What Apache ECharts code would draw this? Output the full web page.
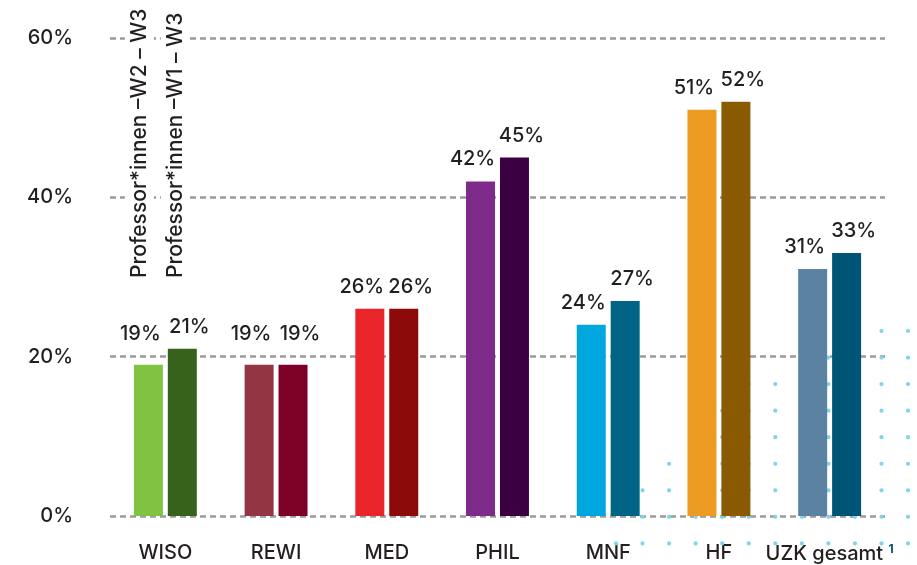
<!DOCTYPE html>
<html>
<head>
<meta charset="utf-8">
<script src="https://cdn.jsdelivr.net/npm/echarts@6/dist/echarts.min.js"></script>
<style>
  html, body { margin: 0; padding: 0; background: #fff; }
  #chart { width: 917px; height: 565px; }
</style>
</head>
<body>
<div id="chart"></div>
<script>
var categories = ['WISO', 'REWI', 'MED', 'PHIL', 'MNF', 'HF', 'UZK gesamt'];
var seriesNames = ['Professor*innen –W2 – W3', 'Professor*innen –W1 – W3'];
var valuesW2 = [19, 19, 26, 42, 24, 51, 31];
var valuesW1 = [21, 19, 26, 45, 27, 52, 33];
var colorsW2 = ['#80c242', '#943543', '#ea242b', '#7d2a8a', '#00a6de', '#ec9b23', '#5b82a0'];
var colorsW1 = ['#36621b', '#7d0027', '#8d0a0a', '#3a0042', '#006487', '#8a5a00', '#005476'];
var yTicks = [0, 20, 40, 60];

// start row of each dot column (decoration bottom right)
var dotStart = [8, 6, 5, 4, 3, 2, 2, 1, 1, 0, 0, 0];

var font = 'Inter, "Noto Sans", sans-serif';
var textColor = '#231f20';

var chart = echarts.init(document.getElementById('chart'));

function toData(values, colors) {
    return values.map(function (v, i) {
        return {
            value: v,
            itemStyle: { color: colors[i] },
            label: { distance: v < 20 ? 21 : 12 }
        };
    });
}

function barSeries(name, values, colors, dx) {
    return {
        name: name,
        type: 'bar',
        barWidth: 29,
        barGap: '17%',
        z: 2,
        data: toData(values, colors),
        label: {
            show: true,
            position: 'top',
            offset: [dx, 0],
            color: textColor,
            fontFamily: font,
            fontSize: 20,
            fontWeight: 500,
            formatter: function (p) { return Math.round(p.value) + '%'; }
        }
    };
}

// dots
var dots = [];
dotStart.forEach(function (s, c) {
    for (var r = s; r <= 8; r++) {
        dots.push({
            type: 'circle',
            z: 1,
            silent: true,
            shape: { cx: 616 + c * 26.55, cy: 331 + r * 26.55, r: 2.1 },
            style: { fill: '#80d4ec' }
        });
    }
});

var option = {
    animation: false,
    backgroundColor: '#fff',
    grid: { left: 110, right: 32, top: 38, bottom: 49 },
    xAxis: {
        type: 'category',
        data: categories,
        axisLine: { show: false },
        axisTick: { show: false },
        axisLabel: {
            interval: 0,
            margin: 27,
            color: textColor,
            fontFamily: font,
            fontSize: 20,
            fontWeight: 500,
            formatter: function (v) {
                return v === 'UZK gesamt' ? v + ' {sup|1}' : v;
            },
            rich: {
                sup: {
                    fontSize: 12,
                    fontWeight: 'bold',
                    color: '#0d4f6e',
                    fontFamily: font,
                    padding: [0, 0, 9, 0]
                }
            }
        }
    },
    yAxis: {
        type: 'value',
        min: yTicks[0],
        max: yTicks[yTicks.length - 1],
        interval: 20,
        axisLine: { show: false },
        axisTick: { show: false },
        axisLabel: {
            margin: 37,
            color: textColor,
            fontFamily: font,
            fontSize: 20,
            fontWeight: 500,
            formatter: '{value}%'
        },
        splitLine: {
            lineStyle: { color: '#9b9b9b', width: 2.5, type: [6, 4] }
        }
    },
    graphic: dots,
    series: [
        barSeries(seriesNames[0], valuesW2, colorsW2, -8),
        barSeries(seriesNames[1], valuesW1, colorsW1, 7)
    ]
};

chart.setOption(option);

// vertical series names above the WISO bars
var cx = chart.convertToPixel({ xAxisIndex: 0 }, categories[0]);
var offsets = [-26, 10];
var nameTexts = seriesNames.map(function (n, i) {
    return {
        type: 'text',
        z: 5,
        x: cx + offsets[i],
        y: 278,
        rotation: Math.PI / 2,
        style: {
            text: n,
            fill: textColor,
            font: '500 21px ' + font,
            align: 'left',
            verticalAlign: 'middle',
            backgroundColor: '#fff',
            padding: [4, 0, 4, 0]
        }
    };
});
chart.setOption({ graphic: dots.concat(nameTexts) });
</script>
</body>
</html>
